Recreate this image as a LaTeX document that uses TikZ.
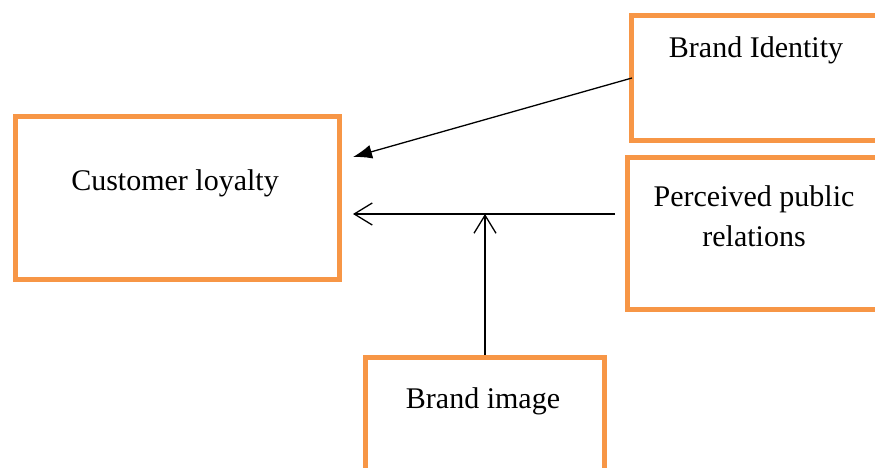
\documentclass[tikz,border=0pt]{standalone}
\usepackage{fontspec}
\setmainfont{Liberation Serif}
\usetikzlibrary{arrows.meta}
\definecolor{boxorange}{RGB}{247,150,70}
\begin{document}
\begin{tikzpicture}[x=1pt,y=-1pt,
  box/.style={draw=boxorange, line width=5pt, fill=white, inner sep=0pt},
  lbl/.style={font=\fontsize{30}{40}\selectfont, align=center, inner sep=0pt},
  conn/.style={draw=black, line width=1.3pt}]
\useasboundingbox (0,0) rectangle (875,468);
\clip (0,0) rectangle (875,468);
% boxes
\node[box, anchor=north west, minimum width=324pt, minimum height=163pt] (cl) at (13,114) {};
\node[box, anchor=north west, minimum width=300pt, minimum height=125pt] (bi) at (629,13) {};
\node[box, anchor=north west, minimum width=300pt, minimum height=152pt] (pr) at (625,155) {};
\node[box, anchor=north west, minimum width=239pt, minimum height=150pt] (bim) at (363,355) {};
% labels
\node[lbl] (tcl) at (175,183) {Customer loyalty};
\node[lbl] (tbi) at (756,50) {Brand Identity};
\node[lbl] (tpr) at (754,216) {Perceived public\\relations};
\node[lbl] (tbim) at (483,401) {Brand image};
% connector points
\coordinate (biout) at (632,78);
\coordinate (tip1) at (353,157);
\coordinate (prout) at (615,214);
\coordinate (tip2) at (353,214);
\coordinate (join) at (485,214);
\coordinate (bimout) at (485,355);
% connectors
\draw[conn, -{Latex[length=19pt,width=14pt]}] (biout) -- (tip1);
\draw[conn, -{Straight Barb[length=18pt,width=22pt,line width=1.3pt]}] (prout) -- (tip2);
\draw[conn, -{Straight Barb[length=18pt,width=22pt,line width=1.3pt]}] (bimout) -- (join);
\end{tikzpicture}
\end{document}
